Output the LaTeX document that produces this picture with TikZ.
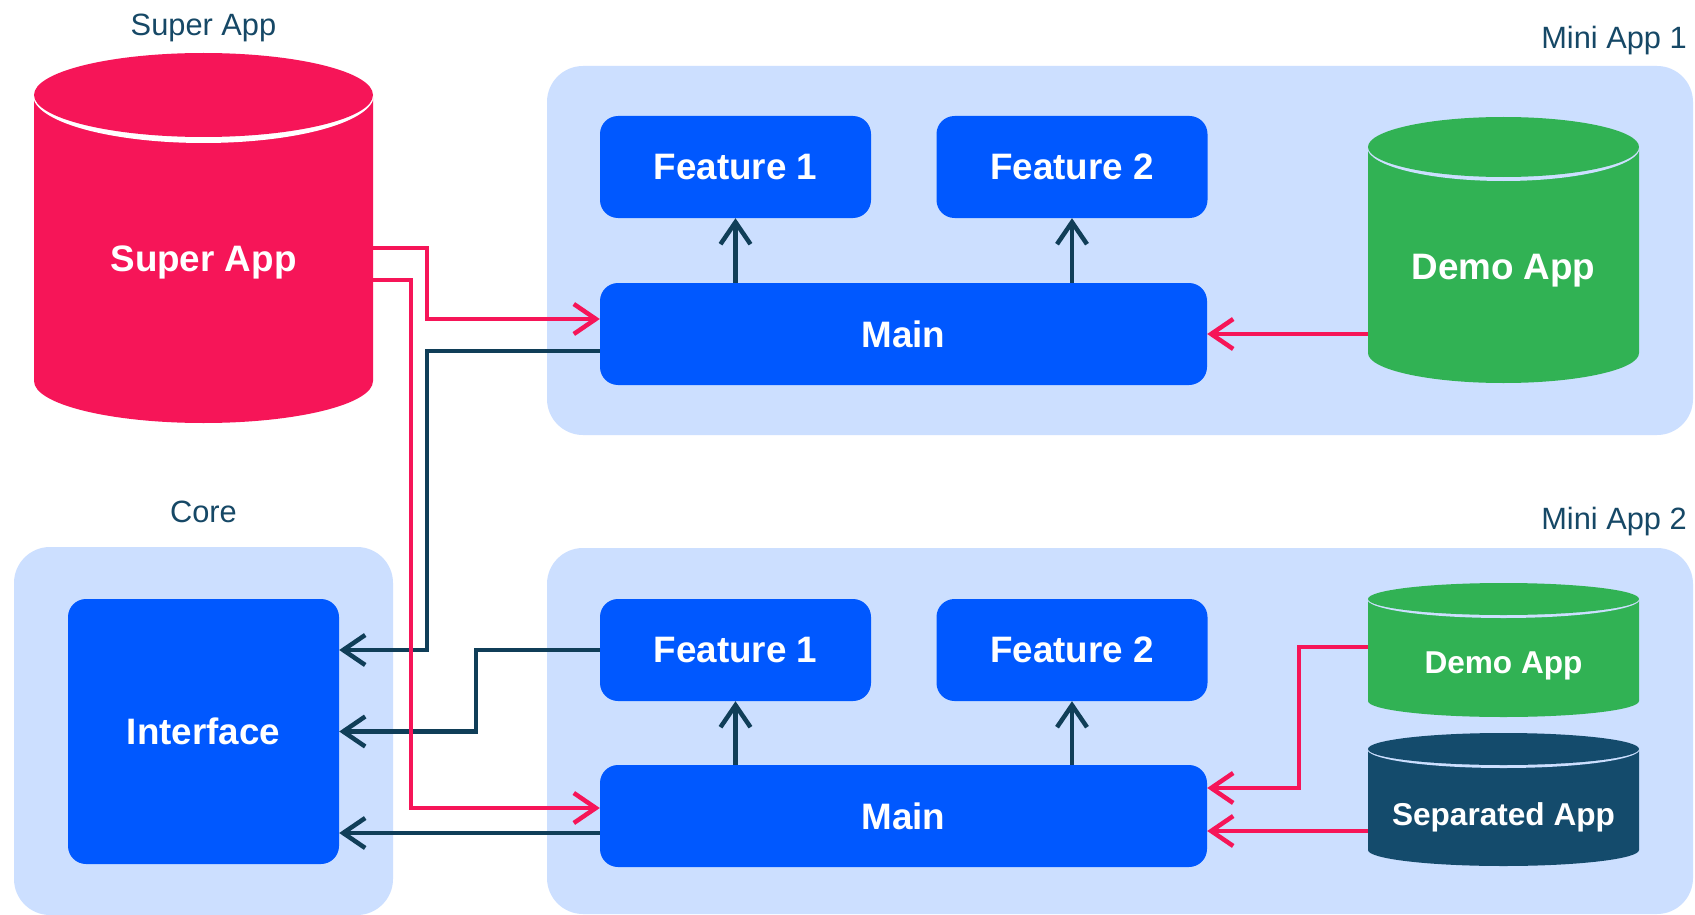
\documentclass[tikz,border=0pt]{standalone}
\usepackage{fontspec}
\setmainfont{Liberation Sans}
\usetikzlibrary{arrows.meta,calc}
\definecolor{pk}{RGB}{246,21,88}
\definecolor{bl}{RGB}{0,88,255}
\definecolor{paneblue}{RGB}{204,223,255}
\definecolor{gr}{RGB}{49,178,84}
\definecolor{nv}{RGB}{20,75,108}
\definecolor{dk}{RGB}{16,62,88}
\definecolor{titletext}{RGB}{22,72,102}

\begin{document}
\begin{tikzpicture}[x=1pt,y=-1pt,
    pane/.style={fill=paneblue,rounded corners=36pt},
    box/.style={fill=bl,rounded corners=18pt,text=white,inner sep=0pt,
      font=\fontsize{36.8}{40}\selectfont\bfseries},
    ttl/.style={text=titletext,inner sep=0pt,font=\fontsize{30.8}{34}\selectfont},
    pkarr/.style={draw=pk,line width=4.5pt,-{Straight Barb[length=22pt,width=30pt]}},
    dkarr/.style={draw=dk,line width=4.5pt,-{Straight Barb[length=22pt,width=30pt]}}]
    \useasboundingbox (0,0) rectangle (1695,915);
    \fill[white] (0,0) rectangle (1695,915);
    \path[pane] (547,66) rectangle (1693,435);
    \path[pane] (14,547) rectangle (393,915);
    \path[pane] (547,548) rectangle (1693,914);

    \node[ttl] (tsuper) at (203.5,28) {Super App};
    \node[ttl,anchor=east] (tmini1) at (1687,41) {Mini App 1};
    \node[ttl] (tcore) at (203.5,512) {Core};
    \node[ttl,anchor=east] (tmini2) at (1687,522) {Mini App 2};

    \foreach \nm/\x/\y/\lbl in {f11/735.5/167/Feature 1, f12/1072/167/Feature 2,
      f21/735.5/650/Feature 1, f22/1072/650/Feature 2}
      \node[box,minimum width=271pt,minimum height=102pt] (\nm) at (\x,\y) {\lbl};
    \node[box,minimum width=607pt,minimum height=102pt] (main1) at (903.5,334) {Main};
    \node[box,minimum width=607pt,minimum height=102pt] (main2) at (903.5,816) {Main};
    \node[box,minimum width=271pt,minimum height=265pt] (iface) at (203.5,731.5) {Interface};

    \foreach \nm/\cx/\tp/\bt/\rx/\ry/\gp/\col/\bg/\fs/\ty/\lbl in {
      super/203.5/53/423/169.5/42/6/pk/white/36.8/262/Super App,
      demo1/1503.5/117/383/135.5/30/4/gr/paneblue/36.8/271/Demo App,
      demo2/1503.5/583/717/135.5/16/3/gr/paneblue/31.6/666/Demo App,
      sep/1503.5/733/866/135.5/16/3/nv/paneblue/31.6/817/Separated App}{
      \fill[\col] (\cx-\rx,\tp+\ry) -- (\cx-\rx,\bt-\ry)
        arc[start angle=180,end angle=0,x radius=\rx,y radius=\ry]
        -- (\cx+\rx,\tp+\ry) -- cycle;
      \fill[\bg] (\cx,\tp+\ry) ellipse[x radius=\rx+1,y radius=\ry+\gp];
      \fill[\col] (\cx,\tp+\ry) ellipse[x radius=\rx,y radius=\ry];
      \node[text=white,inner sep=0pt,minimum width=2*\rx,
        font=\fontsize{\fs}{\fs}\selectfont\bfseries] (\nm) at (\cx,\ty) {\lbl};
    }

    \foreach \a/\b in {main1/f11,main1/f12,main2/f21,main2/f22}
      \draw[dkarr] (\a.north -| \b) -- (\b.south);
    \draw[dkarr] ([yshift=-17pt]main1.west) -- ++(-173,0) |- (iface.east |- 0,650);
    \draw[dkarr] (f21.west) -- ++(-124,0) |- (iface.east);
    \draw[dkarr] ([yshift=-17pt]main2.west) -- (iface.east |- 0,833);

    \draw[pkarr] (super.east |- 0,248) -- ++(54,0) |- ([yshift=15pt]main1.west);
    \draw[pkarr] (super.east |- 0,280) -- ++(38,0) |- ([yshift=8pt]main2.west);
    \draw[pkarr] (demo1.west |- main1.east) -- (main1.east);
    \draw[pkarr] (demo2.west |- 0,647) -- ++(-69,0) |- ([yshift=28pt]main2.east);
    \draw[pkarr] (sep.west |- 0,831) -- ([yshift=-15pt]main2.east);
  \end{tikzpicture}
\end{document}
